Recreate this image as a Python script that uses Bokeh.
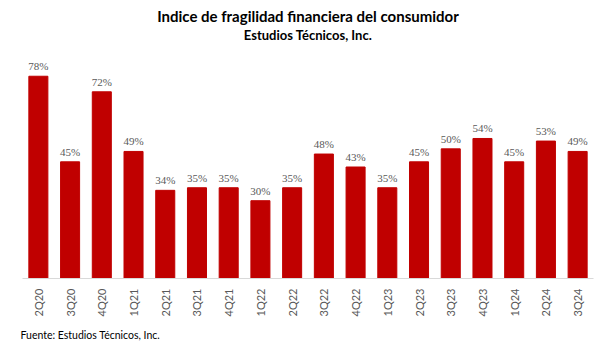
from bokeh.plotting import figure
from bokeh.models import ColumnDataSource, Title, LabelSet, Range1d
from bokeh.embed import file_html
from bokeh.resources import INLINE
import math

categories = ["2Q20", "3Q20", "4Q20", "1Q21", "2Q21", "3Q21", "4Q21", "1Q22", "2Q22",
              "3Q22", "4Q22", "1Q23", "2Q23", "3Q23", "4Q23", "1Q24", "2Q24", "3Q24"]
values = [78, 45, 72, 49, 34, 35, 35, 30, 35, 48, 43, 35, 45, 50, 54, 45, 53, 49]
labels = [f"{v}%" for v in values]

FONT = "Lato"
src = ColumnDataSource(dict(cat=categories, val=values, lab=labels))

p = figure(x_range=categories, y_range=Range1d(0, 86), width=612, height=352,
           output_backend="svg", toolbar_location=None,
           min_border_left=22, min_border_right=19, min_border_top=55, min_border_bottom=74)
p.vbar(x="cat", top="val", width=0.6, source=src, color="#C00000")

p.add_layout(LabelSet(x="cat", y="val", text="lab", source=src, text_align="center",
                      text_baseline="bottom", y_offset=4, text_font=FONT,
                      text_font_size="11px", text_color="#595959"))

p.title.text = "Indice de fragilidad financiera del consumidor"
p.title.align = "center"
p.title.text_font = FONT
p.title.text_font_size = "15px"
p.title.text_font_style = "bold"
p.title.text_color = "#000000"
p.title.standoff = 0
# spacer between the plot frame and the subtitle
p.add_layout(Title(text=" ", align="center", text_font=FONT,
                   text_font_size="9px", text_color="#FFFFFF", standoff=0), "above")
p.add_layout(Title(text="Estudios Técnicos, Inc.", align="center", text_font=FONT,
                   text_font_size="13px", text_font_style="bold", text_color="#000000",
                   standoff=0), "above")

p.add_layout(Title(text="Fuente: Estudios Técnicos, Inc.", align="left", text_font=FONT,
                   text_font_size="10.5px", text_font_style="normal", text_color="#000000",
                   offset=-2, standoff=14), "below")

p.yaxis.visible = False
p.xgrid.visible = False
p.ygrid.visible = False
p.outline_line_color = None
p.xaxis.axis_line_color = "#D9D9D9"
p.xaxis.major_tick_line_color = None
p.xaxis.minor_tick_line_color = None
p.xaxis.major_label_orientation = math.pi / 2
p.xaxis.major_label_text_font = FONT
p.xaxis.major_label_text_font_size = "11px"
p.xaxis.major_label_text_color = "#595959"
p.xaxis.major_label_standoff = 4
p.x_range.range_padding = 0.0

open("out.html", "w").write(file_html(p, INLINE))
